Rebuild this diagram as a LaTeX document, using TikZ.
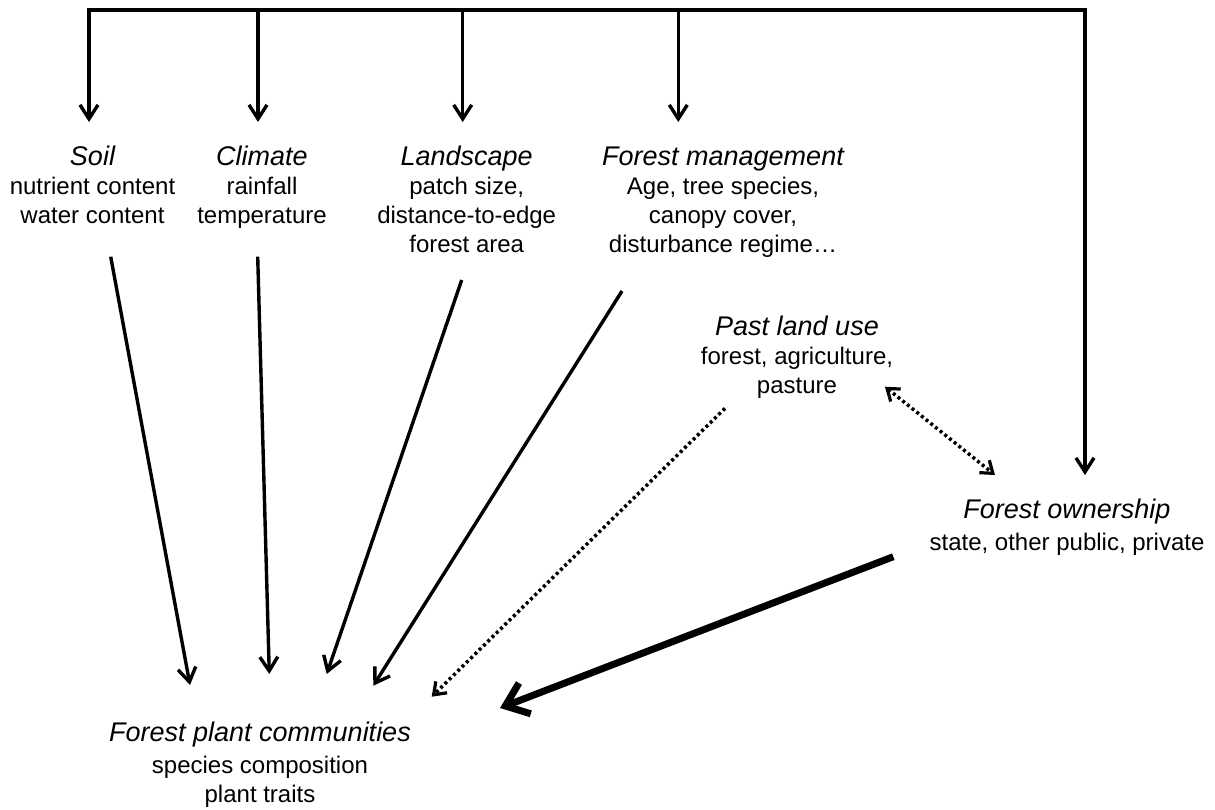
\documentclass[tikz,border=0pt]{standalone}
\usepackage{fontspec}
\setmainfont{Liberation Sans}
\usetikzlibrary{arrows.meta}
\begin{document}
\begin{tikzpicture}[x=1pt,y=-1pt,
  title/.style={font=\fontsize{27}{32}\selectfont\itshape, anchor=base, inner sep=0pt},
  sub/.style={font=\fontsize{24}{29}\selectfont, anchor=base, align=center, inner sep=0pt},
  tip/.tip={Straight Barb[length=14pt,width=18pt,line width=3.4pt]},
  smalltip/.tip={Straight Barb[length=11pt,width=16pt,line width=3.2pt]},
  bigtip/.tip={Straight Barb[length=21pt,width=33pt,line width=7pt]},
  conn/.style={line width=3.4pt, -tip},
  trunk/.style={line width=3.4pt, line join=miter, tip-tip},
  dotconn/.style={line width=3.5pt, dash pattern=on 3pt off 3pt, -smalltip},
  dotboth/.style={line width=3.5pt, dash pattern=on 3pt off 3pt, smalltip-smalltip},
  thickconn/.style={line width=7pt, -bigtip}]
\useasboundingbox[fill=white] (0,0) rectangle (1215,809);

% text blocks (sub-text nodes are placed at the baseline of their last line)
\node[title] (soil) at (92.5,165) {Soil};
\node[sub] (soilsub) at (92.5,223.5) {nutrient content\\water content};
\node[title] (clim) at (262,165) {Climate};
\node[sub] (climsub) at (262,223.5) {rainfall\\temperature};
\node[title] (land) at (466.7,165) {Landscape};
\node[sub] (landsub) at (466.7,252) {patch size,\\distance-to-edge\\forest area};
\node[title] (man) at (723,165) {Forest management};
\node[sub] (mansub) at (723,252) {Age, tree species,\\canopy cover,\\disturbance regime…};
\node[title] (past) at (797,335) {Past land use};
\node[sub] (pastsub) at (797,393.5) {forest, agriculture,\\pasture};
\node[title] (own) at (1067,518) {Forest ownership};
\node[sub] (ownsub) at (1067,550) {state, other public, private};
\node[title] (comm) at (260,741.7) {Forest plant communities};
\node[sub] (commsub) at (260,802) {species composition\\plant traits};

% connector end points
\coordinate (tl) at (89,10);
\coordinate (tr) at (1085,10);
\coordinate (climTop) at (258,10);
\coordinate (landTop) at (462.7,10);
\coordinate (manTop) at (678.3,10);
\coordinate (soilIn) at (89,122);
\coordinate (climIn) at (258,122);
\coordinate (landIn) at (462.7,122);
\coordinate (manIn) at (678.3,122);
\coordinate (ownIn) at (1085,475);

\coordinate (soilOut) at (110.7,256.7);
\coordinate (climOut) at (257.7,256.7);
\coordinate (landOut) at (461.7,280);
\coordinate (manOut) at (622,291);
\coordinate (pastOut) at (725,408.3);
\coordinate (ownOut) at (893.3,556.7);
\coordinate (commSoil) at (190,685);
\coordinate (commClim) at (269.3,674);
\coordinate (commLand) at (326.7,674);
\coordinate (commMan) at (373.3,685.7);
\coordinate (commPast) at (431.7,696.7);
\coordinate (commOwn) at (500,708);
\coordinate (pastLink) at (885,386.7);
\coordinate (ownLink) at (995,475);

% top distribution line
\draw[trunk] (soilIn) -- (tl) -- (tr) -- (ownIn);
\draw[conn] (climTop) -- (climIn);
\draw[conn] (landTop) -- (landIn);
\draw[conn] (manTop) -- (manIn);

% influences on plant communities
\draw[conn] (soilOut) -- (commSoil);
\draw[conn] (climOut) -- (commClim);
\draw[conn] (landOut) -- (commLand);
\draw[conn] (manOut) -- (commMan);
\draw[dotconn] (pastOut) -- (commPast);
\draw[thickconn] (ownOut) -- (commOwn);
\draw[dotboth] (pastLink) -- (ownLink);
\end{tikzpicture}
\end{document}
